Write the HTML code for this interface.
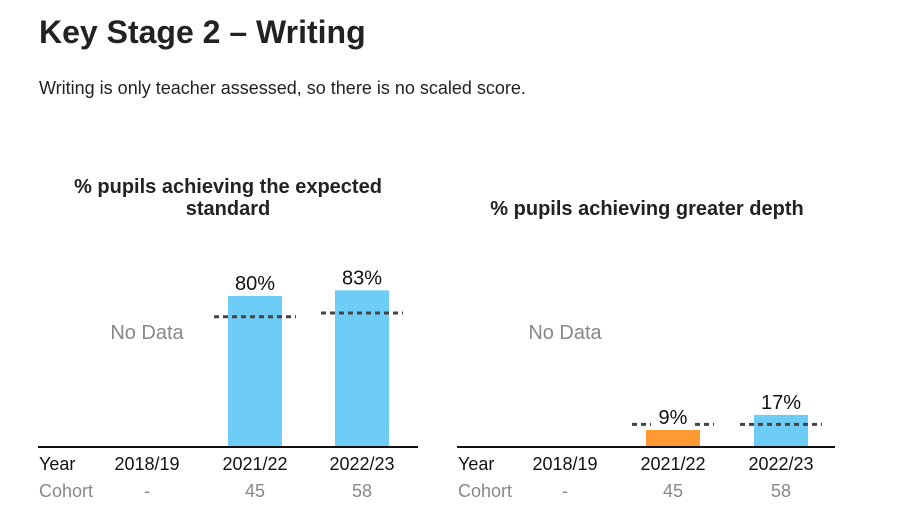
<!DOCTYPE html>
<html><head><meta charset="utf-8"><style>
body{margin:0;width:901px;height:524px;background:#fff;font-family:"Liberation Sans",Arial,sans-serif;overflow:hidden}
h1{position:absolute;left:39px;top:14px;margin:0;font-size:32px;font-weight:bold;color:#222}
p{position:absolute;left:39px;top:78px;margin:0;font-size:18px;color:#222}
svg{position:absolute;left:0;top:0}
</style></head><body>
<h1>Key Stage 2 – Writing</h1>
<p>Writing is only teacher assessed, so there is no scaled score.</p>
<svg id="chart" width="901" height="524" font-family="Liberation Sans, Arial, sans-serif"></svg>
<script>
const years = ["2018/19","2021/22","2022/23"];
const cohorts = ["-","45","58"];
const expectedValues = [null,80,83];
const expectedNational = [null,69,71];
const depthValues = [null,9,17];
const depthNational = [null,12,12];
const depthColors = [null,"#ff9933","#6dcdf7"];

const svg=document.getElementById('chart');
const NS="http://www.w3.org/2000/svg";
function mk(tag,attrs,parent){const e=document.createElementNS(NS,tag);for(const k in attrs)e.setAttribute(k,attrs[k]);(parent||svg).appendChild(e);return e;}
const baseY=447, pxPer=1.8875;
function y(v){return baseY-v*pxPer;}

function drawChart(x0,x1,centers,values,national,colors,titleLines,titleX,titleY,name){
  const g=mk('g',{});
  
  
  titleLines.forEach((t,i)=>{
    const tt=mk('text',{x:titleX,y:titleY+i*22,'text-anchor':'middle','font-size':'20','font-weight':'bold',fill:'#222'},g);
    tt.textContent=t;
    
    
  });
  values.forEach((v,i)=>{
    const cx=centers[i];
    if(v===null){
      const nd=mk('text',{x:cx,y:339,'text-anchor':'middle','font-size':'20',fill:'#888'},g);
      nd.textContent='No Data';
      
      
    } else {
      const b=mk('rect',{x:cx-27,y:y(v),width:54,height:baseY-y(v),fill:colors?colors[i]:'#6dcdf7'},g);
      
      
    }
  });
  national.forEach((v,i)=>{
    if(v===null)return;
    const l=mk('line',{x1:centers[i]-41,x2:centers[i]+41,y1:y(v),y2:y(v),stroke:'#444','stroke-width':3,'stroke-dasharray':'5 4'},g);
    
    
  });
  values.forEach((v,i)=>{
    if(v===null)return;
    const ly=y(v)-6;
    const bg=mk('rect',{x:centers[i]-22,y:ly-19,width:44,height:22,fill:'#fff'},g);
    
    
    const t=mk('text',{x:centers[i],y:ly,'text-anchor':'middle','font-size':'20',fill:'#111'},g);
    t.textContent=v+'%';
    
    
  });
  const ax=mk('line',{x1:x0,x2:x1,y1:baseY,y2:baseY,stroke:'#111','stroke-width':2},g);
  
  
  const yl=mk('text',{x:x0+1,y:470,'font-size':'18',fill:'#111'},g);yl.textContent='Year';
  
  
  const cl=mk('text',{x:x0+1,y:497,'font-size':'18',fill:'#888'},g);cl.textContent='Cohort';
  
  
  years.forEach((yr,i)=>{
    const t=mk('text',{x:centers[i],y:470,'text-anchor':'middle','font-size':'18',fill:'#111'},g);t.textContent=yr;
    
    
    const c=mk('text',{x:centers[i],y:497,'text-anchor':'middle','font-size':'18',fill:'#888'},g);c.textContent=cohorts[i];
    
    
  });
}
drawChart(38,418,[147,255,362],expectedValues,expectedNational,null,["% pupils achieving the expected","standard"],228,193,'expected-standard-chart');
drawChart(457,835,[565,673,781],depthValues,depthNational,depthColors,["% pupils achieving greater depth"],647,215,'greater-depth-chart');
</script>
</body></html>
